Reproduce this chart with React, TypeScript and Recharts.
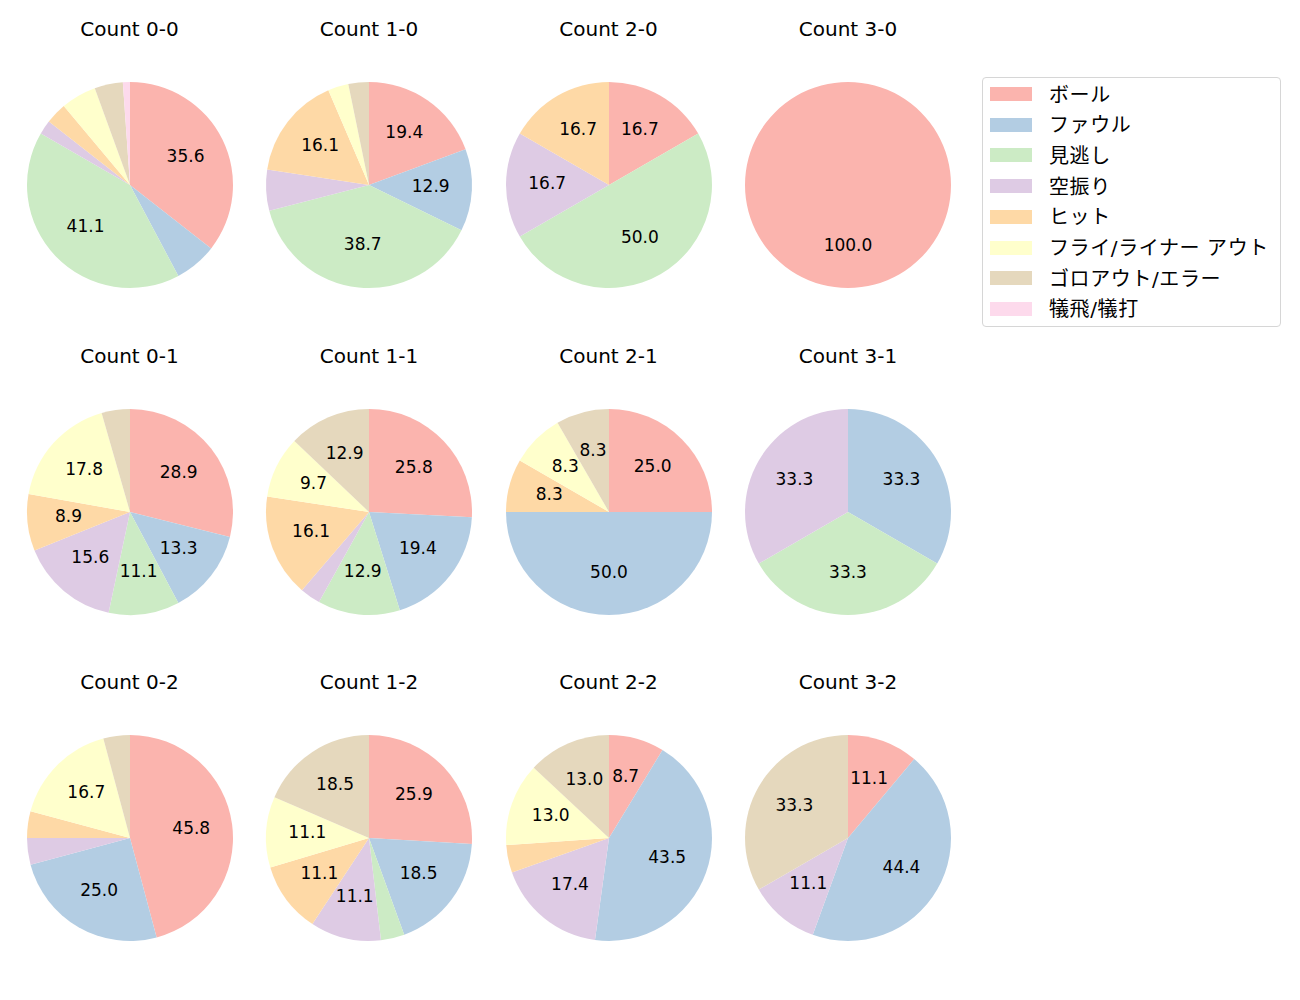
import React from 'react'
import { PieChart, Pie, Cell } from 'recharts'

const CATEGORIES = ['ボール', 'ファウル', '見逃し', '空振り', 'ヒット', 'フライ/ライナー アウト', 'ゴロアウト/エラー', '犠飛/犠打']
const COLORS = ['#fbb4ae', '#b3cde3', '#ccebc5', '#decbe4', '#fed9a6', '#ffffcc', '#e5d8bd', '#fddaec']

// pitch counts per category, same order as CATEGORIES
const count00 = [32, 6, 37, 2, 3, 5, 4, 1]
const count10 = [6, 4, 12, 2, 5, 1, 1, 0]
const count20 = [1, 0, 3, 1, 1, 0, 0, 0]
const count30 = [1, 0, 0, 0, 0, 0, 0, 0]
const count01 = [13, 6, 5, 7, 4, 8, 2, 0]
const count11 = [8, 6, 4, 1, 5, 3, 4, 0]
const count21 = [3, 6, 0, 0, 1, 1, 1, 0]
const count31 = [0, 1, 1, 1, 0, 0, 0, 0]
const count02 = [11, 6, 0, 1, 1, 4, 1, 0]
const count12 = [7, 5, 1, 3, 3, 3, 5, 0]
const count22 = [2, 10, 0, 4, 1, 3, 3, 0]
const count32 = [1, 4, 0, 1, 0, 0, 3, 0]

const PANELS = [
  { title: 'Count 0-0', values: count00 },
  { title: 'Count 1-0', values: count10 },
  { title: 'Count 2-0', values: count20 },
  { title: 'Count 3-0', values: count30 },
  { title: 'Count 0-1', values: count01 },
  { title: 'Count 1-1', values: count11 },
  { title: 'Count 2-1', values: count21 },
  { title: 'Count 3-1', values: count31 },
  { title: 'Count 0-2', values: count02 },
  { title: 'Count 1-2', values: count12 },
  { title: 'Count 2-2', values: count22 },
  { title: 'Count 3-2', values: count32 },
]

const FONT = '"DejaVu Sans", "Noto Sans CJK JP", sans-serif'
const COL_X = [129.5, 369, 608.5, 848]
const ROW_Y = [185, 512, 838]
const R = 103
const BOX = 240
const RADIAN = Math.PI / 180

const renderLabel = (props: any) => {
  const { cx, cy, midAngle, outerRadius, percent } = props
  const pct = percent * 100
  if (pct < 8) return null
  const x = cx + outerRadius * 0.6 * Math.cos(-midAngle * RADIAN)
  const y = cy + outerRadius * 0.6 * Math.sin(-midAngle * RADIAN) - 2
  return (
    <text x={x} y={y} fill="#000" fontSize={17} fontFamily={FONT} textAnchor="middle" dominantBaseline="central">
      {pct.toFixed(1)}
    </text>
  )
}

export default function App() {
  return (
    <div style={{ position: 'absolute', left: 0, top: 0, width: 1300, height: 1000, background: '#fff', fontFamily: FONT }}>
      {PANELS.map((p, i) => {
        const cx = COL_X[i % 4]
        const cy = ROW_Y[Math.floor(i / 4)]
        const data = p.values.map((v, k) => ({ name: CATEGORIES[k], value: v }))
        return (
          <React.Fragment key={p.title}>
            <div style={{ position: 'absolute', left: cx - 100, width: 200, top: cy - 170, textAlign: 'center', fontSize: 20, lineHeight: '28px', color: '#000' }}>
              {p.title}
            </div>
            <div style={{ position: 'absolute', left: cx - BOX / 2, top: cy - BOX / 2 }}>
              <PieChart width={BOX} height={BOX} margin={{ top: 0, right: 0, bottom: 0, left: 0 }}>
                <Pie
                  data={data}
                  dataKey="value"
                  cx={BOX / 2}
                  cy={BOX / 2}
                  outerRadius={R}
                  startAngle={90}
                  endAngle={-270}
                  stroke="none"
                  labelLine={false}
                  label={renderLabel}
                  isAnimationActive={false}
                >
                  {data.map((d, k) => (
                    <Cell key={`cell-${k}`} fill={COLORS[k]} />
                  ))}
                </Pie>
              </PieChart>
            </div>
          </React.Fragment>
        )
      })}

      {/* legend */}
      <div style={{ position: 'absolute', left: 982, top: 77, width: 297, height: 248, border: '1px solid #d6d6d6', borderRadius: 4, background: '#fff' }}>
        {CATEGORIES.map((c, k) => (
          <div key={c} style={{ position: 'absolute', left: 0, top: 1 + k * 30.7, height: 28, display: 'flex', alignItems: 'center' }}>
            <div style={{ marginLeft: 7, width: 42, height: 14, background: COLORS[k], marginTop: 2 }} />
            <span style={{ marginLeft: 17, fontSize: 20, color: '#000', whiteSpace: 'nowrap', letterSpacing: 0.6 }}>{c}</span>
          </div>
        ))}
      </div>
    </div>
  )
}
